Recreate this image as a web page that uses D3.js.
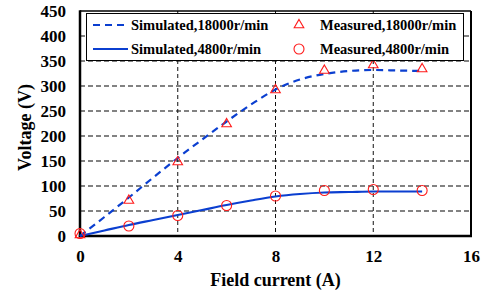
<!doctype html>
<html>
<head>
    <meta charset="utf-8">
    <title>Voltage vs field current</title>
    <style>
        body { margin: 0; background: #fff; }
        text { font-family: "Liberation Serif", "Times New Roman", serif; font-weight: bold; fill: #000; }
        .grid-h { stroke: #5a5a5a; stroke-width: 1.4; stroke-dasharray: 5,3; }
        .grid-v { stroke: #111; stroke-width: 1; stroke-dasharray: 4,3; }
        .sim { fill: none; stroke: #0b3fd0; stroke-width: 2.2; }
        .sim.dashed { stroke-dasharray: 7,5; }
        .meas { fill: none; stroke: #ff1a1a; stroke-width: 1.1; }
    </style>
</head>
<body>
    <div id="chart"></div>

    <script src="https://cdn.jsdelivr.net/npm/d3@7"></script>
    <script>
        var svg_width = 481;
        var svg_height = 292;
        var margin = { left: 80, right: 10, top: 11, bottom: 56 };

        // x ticks / y ticks
        var x_ticks = [0, 4, 8, 12, 16];
        var y_ticks = [0, 50, 100, 150, 200, 250, 300, 350, 400, 450];

        // simulated curves
        var sim_current = [0, 1, 2, 3, 4, 5, 6, 7, 8, 9, 10, 11, 12, 13, 14];
        var sim_18000 = [0, 38, 77, 117, 156, 193, 229, 263, 293, 313, 324, 330, 332, 331, 330];
        var sim_4800 = [0, 11, 22, 32, 42, 52, 62, 71, 79, 84, 87, 88, 89, 89, 89];

        // measured points
        var meas_current = [0, 2, 4, 6, 8, 10, 12, 14];
        var meas_18000 = [2, 71, 148, 224, 292, 331, 342, 334];
        var meas_4800 = [5, 20, 41, 61, 80, 91, 93, 91];

        var width = svg_width - margin.left - margin.right;
        var height = svg_height - margin.top - margin.bottom;

        var svg = d3.select('#chart').append('svg')
            .attr('width', svg_width)
            .attr('height', svg_height);

        var g = svg.append('g')
            .attr('transform', 'translate(' + margin.left + ',' + margin.top + ')');

        var x = d3.scaleLinear().domain([0, 16]).range([0, width]);
        var y = d3.scaleLinear().domain([0, 450]).range([height, 0]);

        // grid
        g.selectAll('line.grid-h')
            .data(y_ticks.filter(function(d) { return d > 0 && d < 450; }))
          .enter().append('line')
            .attr('class', 'grid-h')
            .attr('x1', 0).attr('x2', width)
            .attr('y1', function(d) { return y(d); })
            .attr('y2', function(d) { return y(d); });

        g.selectAll('line.grid-v')
            .data(x_ticks.filter(function(d) { return d > 0 && d < 16; }))
          .enter().append('line')
            .attr('class', 'grid-v')
            .attr('y1', 0).attr('y2', height)
            .attr('x1', function(d) { return x(d); })
            .attr('x2', function(d) { return x(d); });

        // axes (labels only, no tick marks)
        var xAxis = g.append('g')
            .attr('transform', 'translate(0,' + height + ')')
            .call(d3.axisBottom(x).tickValues(x_ticks).tickSize(0).tickPadding(14));
        xAxis.select('.domain').remove();
        xAxis.selectAll('text').style('font-size', '17px').attr('dy', '0.71em');

        var yAxis = g.append('g')
            .call(d3.axisLeft(y).tickValues(y_ticks).tickSize(0).tickPadding(14));
        yAxis.select('.domain').remove();
        yAxis.selectAll('text').style('font-size', '17px');

        // frame
        g.append('line').attr('x1', 0).attr('x2', width).attr('y1', 0).attr('y2', 0)
            .attr('stroke', '#000').attr('stroke-width', 1.5);
        g.append('line').attr('x1', width).attr('x2', width).attr('y1', 0).attr('y2', height)
            .attr('stroke', '#000').attr('stroke-width', 2);
        g.append('line').attr('x1', 0).attr('x2', 0).attr('y1', -0.7).attr('y2', height + 1.2)
            .attr('stroke', '#000').attr('stroke-width', 2.5);
        g.append('line').attr('x1', -1.2).attr('x2', width + 1).attr('y1', height).attr('y2', height)
            .attr('stroke', '#000').attr('stroke-width', 2.5);

        // simulated lines
        var line = d3.line()
            .x(function(d) { return x(d[0]); })
            .y(function(d) { return y(d[1]); })
            .curve(d3.curveMonotoneX);

        g.append('path')
            .datum(d3.zip(sim_current, sim_18000))
            .attr('class', 'sim dashed')
            .attr('d', line);

        g.append('path')
            .datum(d3.zip(sim_current, sim_4800))
            .attr('class', 'sim')
            .attr('d', line);

        // measured markers
        var tri = d3.symbol().type(d3.symbolTriangle).size(40);

        g.selectAll('path.tri')
            .data(d3.zip(meas_current, meas_18000))
          .enter().append('path')
            .attr('class', 'meas tri')
            .attr('d', tri)
            .attr('transform', function(d) { return 'translate(' + x(d[0]) + ',' + y(d[1]) + ')'; });

        g.selectAll('circle.circ')
            .data(d3.zip(meas_current, meas_4800))
          .enter().append('circle')
            .attr('class', 'meas circ')
            .attr('r', 5)
            .attr('cx', function(d) { return x(d[0]); })
            .attr('cy', function(d) { return y(d[1]); });

        // legend
        var legend = svg.append('g');
        legend.append('rect')
            .attr('x', 86.5).attr('y', 13.5)
            .attr('width', 377).attr('height', 47)
            .attr('fill', '#fff').attr('stroke', '#000').attr('stroke-width', 1);

        var rows = [25, 49];
        legend.append('line').attr('class', 'sim dashed')
            .attr('x1', 93).attr('x2', 128).attr('y1', rows[0]).attr('y2', rows[0]);
        legend.append('line').attr('class', 'sim')
            .attr('x1', 93).attr('x2', 128).attr('y1', rows[1]).attr('y2', rows[1]);
        legend.append('path').attr('class', 'meas').attr('d', tri)
            .attr('transform', 'translate(299,' + rows[0] + ')');
        legend.append('circle').attr('class', 'meas').attr('r', 5)
            .attr('cx', 299).attr('cy', rows[1]);

        var labels = [
            [131, rows[0], 'Simulated,18000r/min'],
            [131, rows[1], 'Simulated,4800r/min'],
            [320, rows[0], 'Measured,18000r/min'],
            [320, rows[1], 'Measured,4800r/min']
        ];
        legend.selectAll('text')
            .data(labels)
          .enter().append('text')
            .attr('x', function(d) { return d[0]; })
            .attr('y', function(d) { return d[1]; })
            .attr('dy', '0.35em')
            .style('font-size', '14.5px')
            .text(function(d) { return d[2]; });

        // axis titles
        svg.append('text')
            .attr('x', margin.left + width / 2)
            .attr('y', 286)
            .attr('text-anchor', 'middle')
            .style('font-size', '18px')
            .text('Field current (A)');

        svg.append('text')
            .attr('transform', 'translate(31,' + (margin.top + height / 2 + 4) + ') rotate(-90)')
            .attr('text-anchor', 'middle')
            .style('font-size', '18px')
            .text('Voltage (V)');
    </script>
</body>
</html>
